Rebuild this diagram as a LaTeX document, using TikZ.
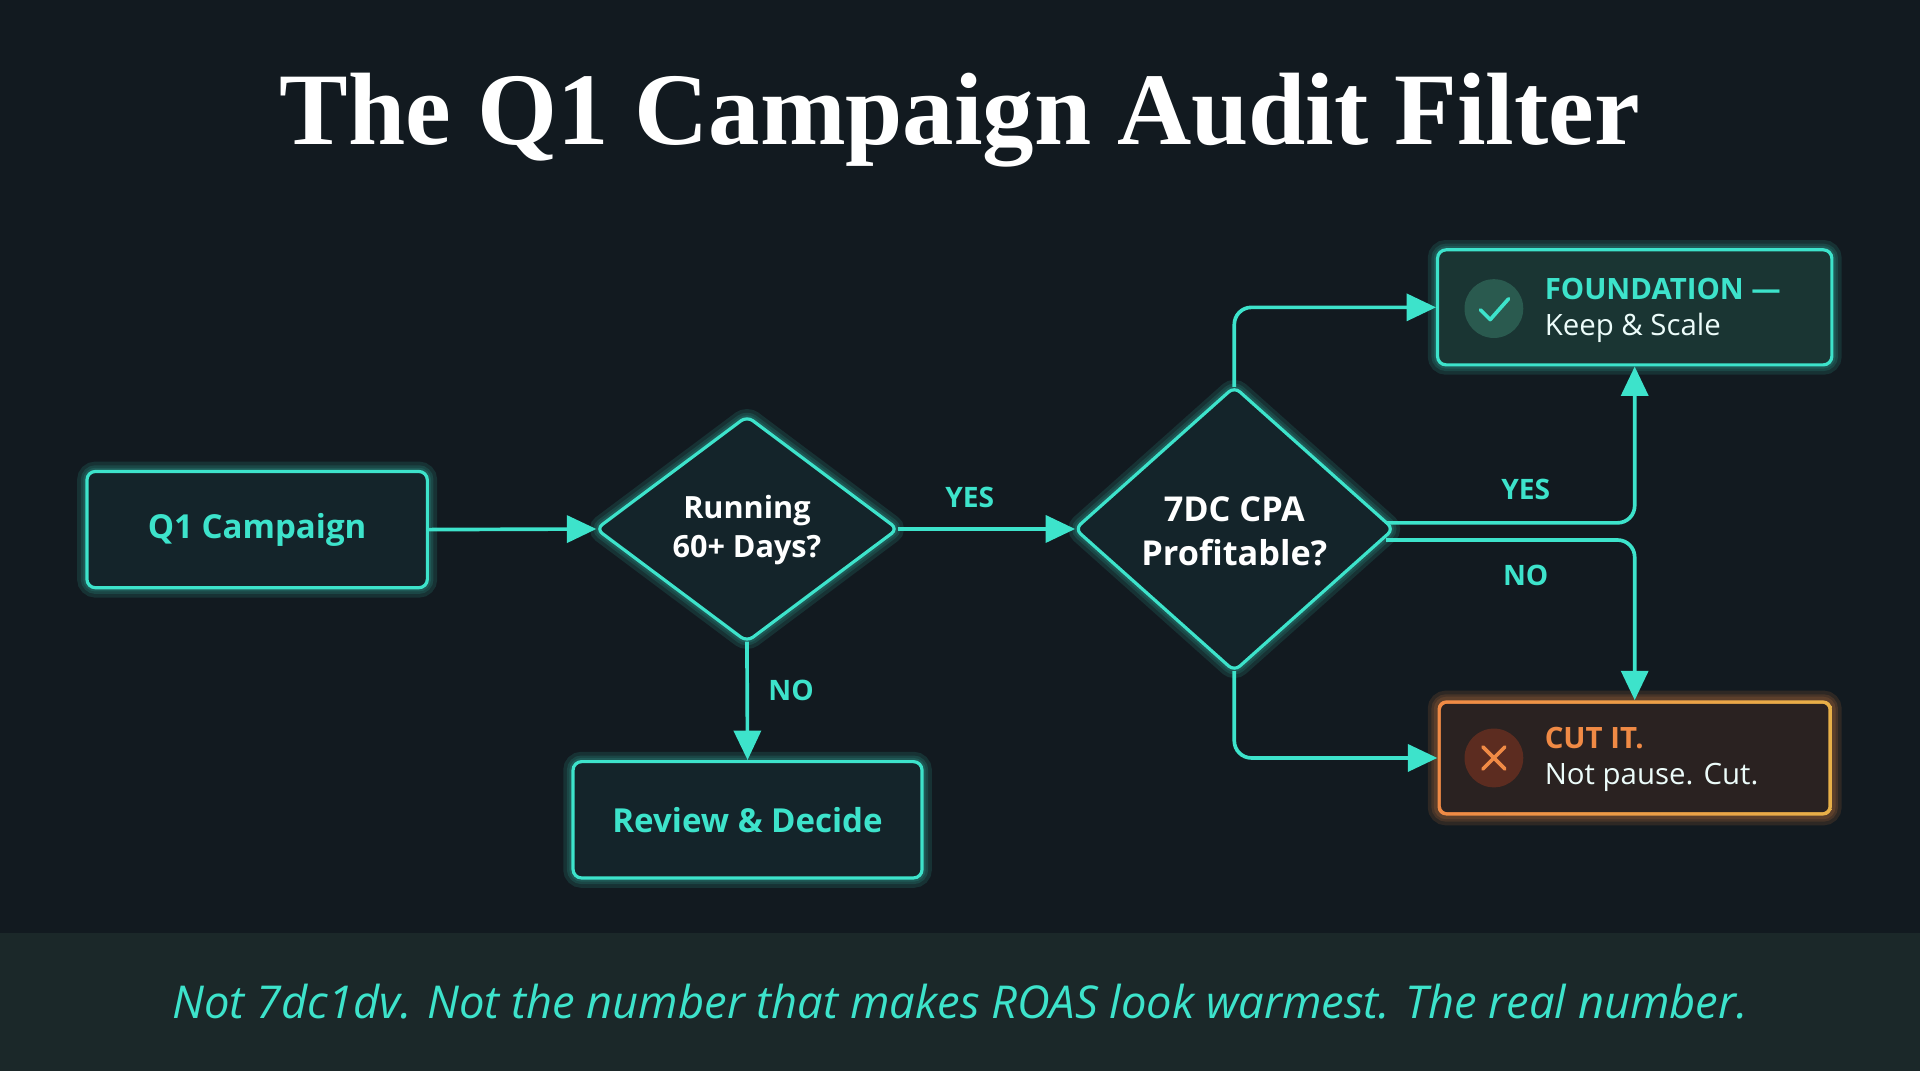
\documentclass[tikz,border=0pt]{standalone}
\usepackage{fontspec}
\setmainfont{Liberation Serif}
\newfontfamily\uisans{Open Sans}
\usetikzlibrary{arrows.meta,shapes.geometric,calc}
\definecolor{bgc}{HTML}{121A20}
\definecolor{bandc}{HTML}{1B2829}
\definecolor{teal}{HTML}{3DE3CB}
\definecolor{boxfill}{HTML}{14242A}
\definecolor{fndfill}{HTML}{1A3533}
\definecolor{cutfill}{HTML}{2A2221}
\definecolor{orng}{HTML}{F08A45}
\definecolor{gold}{HTML}{E8B048}
\definecolor{chkfill}{HTML}{2A5A4F}
\definecolor{xfill}{HTML}{5C2C20}
\tikzset{
  glow/.style={draw=teal, line width=#1, opacity=0.12},
  card/.style={draw=teal, line width=2.6pt, rounded corners=7pt, fill=boxfill},
  conn/.style={draw=teal, line width=3pt, rounded corners=14pt, -{Triangle[length=24pt,width=22pt]}},
  lbl/.style={text=teal, font=\uisans\bfseries\fontsize{23}{26}\selectfont},
  ctext/.style={text=teal, font=\uisans\bfseries\fontsize{27}{30}\selectfont},
  dtext/.style={text=white, font=\uisans\bfseries\fontsize{25}{32}\selectfont, align=center},
}
\begin{document}
\begin{tikzpicture}[x=1pt,y=-1pt]
\fill[bgc] (0,0) rectangle (1568,875);
\useasboundingbox (0,0) rectangle (1568,875);
\fill[bandc] (0,762) rectangle (1568,875);
\node (title) at (784,98) {\fontsize{84}{90}\selectfont\bfseries\color{white}The Q1 Campaign Audit Filter};
% glows
\foreach \w in {16,10,6}{
  \draw[glow=\w pt, rounded corners=7pt] (71,385) rectangle (349,480);
  \draw[glow=\w pt, rounded corners=7pt] (468,622) rectangle (753,717);
  \draw[glow=\w pt, rounded corners=7pt] (1174,204) rectangle (1496,298);
  \draw[glow=\w pt, rounded corners=6pt] (610,340)--(733,432)--(610,524)--(487,432)--cycle;
  \draw[glow=\w pt, rounded corners=6pt] (1008,316)--(1138,432)--(1008,548)--(878,432)--cycle;
}
\foreach \w in {16,10,6}{\draw[draw=orng, line width=\w pt, opacity=0.13, rounded corners=7pt] (1174,572) rectangle (1496,666);}
% nodes
\node[card, minimum width=278pt, minimum height=95pt] (q1) at (210,432.5) {};
\node[ctext] at (q1) {Q1 Campaign};
\node[card, minimum width=285pt, minimum height=95pt] (rev) at (610.5,669.5) {};
\node[ctext] at (rev) {Review \& Decide};
\draw[teal, line width=2.6pt, fill=boxfill, rounded corners=6pt] (610,340)--(733,432)--(610,524)--(487,432)--cycle;
\coordinate (d1l) at (487,432); \coordinate (d1r) at (733,432); \coordinate (d1b) at (610,524);
\node[dtext] at (610,433) {Running\\60+ Days?};
\draw[teal, line width=2.6pt, fill=boxfill, rounded corners=6pt] (1008,316)--(1138,432)--(1008,548)--(878,432)--cycle;
\coordinate (d2l) at (878,432); \coordinate (d2t) at (1008,316); \coordinate (d2b) at (1008,548);
\coordinate (d2ra) at (1132,427); \coordinate (d2rb) at (1132,441);
\node[dtext, font=\uisans\bfseries\fontsize{28}{36}\selectfont] at (1008,434) {7DC CPA\\Profitable?};
\node[card, fill=fndfill, minimum width=322pt, minimum height=94pt] (fnd) at (1335,251) {};
\fill[chkfill] (1220,252) circle (24pt);
\draw[teal, line width=3pt, line cap=round, line join=round] (1209,253)--(1217,261)--(1232,244);
\node[anchor=west, text=teal, font=\uisans\bfseries\fontsize{24}{28}\selectfont] at (1258,236) {FOUNDATION —};
\node[anchor=west, text=white!90!teal, font=\uisans\fontsize{24}{28}\selectfont] at (1258,268) {Keep \& Scale};
\shade[left color=orng, right color=gold, rounded corners=7pt] (1174,572) rectangle (1496,666);
\fill[cutfill, rounded corners=5pt] (1176.8,574.8) rectangle (1493.2,663.2);
\node[minimum width=322pt, minimum height=94pt] (cut) at (1335,619) {};
\fill[xfill] (1220,619) circle (24pt);
\draw[orng, line width=3pt, line cap=round] (1211,610)--(1229,628) (1229,610)--(1211,628);
\node[anchor=west, text=orng, font=\uisans\bfseries\fontsize{24}{28}\selectfont] at (1258,603) {CUT IT.};
\node[anchor=west, text=white!90!teal, font=\uisans\fontsize{24}{28}\selectfont] at (1258,635) {Not pause. Cut.};
% connectors
\draw[conn] (q1.east) -- (d1l);
\draw[conn] (d1r) -- (d2l);
\draw[conn] (d1b) -- (rev.north);
\draw[conn] (d2t) |- (fnd.west);
\draw[conn] (d2b) |- (cut.west);
\draw[conn] (d2ra) -| (fnd.south);
\draw[conn] (d2rb) -| (cut.north);
\node[lbl] at (792,406) {YES};
\node[lbl] at (646,564) {NO};
\node[lbl] at (1246,400) {YES};
\node[lbl] at (1246,470) {NO};
\node (cap) at (784,818) {\uisans\itshape\fontsize{37}{42}\selectfont\color{teal}Not 7dc1dv. Not the number that makes ROAS look warmest. The real number.};
\end{tikzpicture}
\end{document}
